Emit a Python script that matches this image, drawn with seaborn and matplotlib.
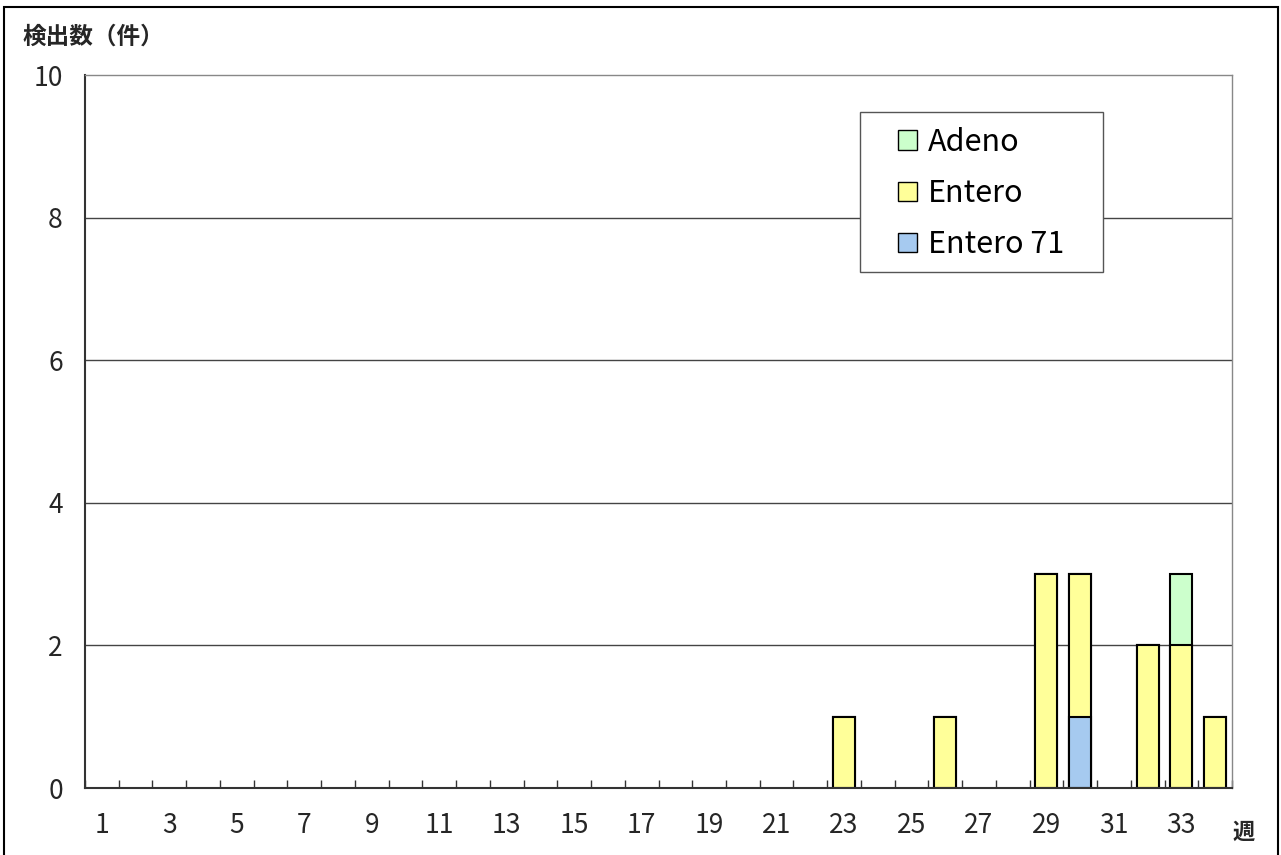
import matplotlib
matplotlib.use('Agg')
import matplotlib.pyplot as plt
import numpy as np
import pandas as pd
import seaborn as sns
from matplotlib.patches import Patch, Rectangle

weeks = list(range(1, 35))
entero71 = [0] * 29 + [1, 0, 0, 0, 0]
entero = [0] * 22 + [1, 0, 0, 1, 0, 0, 3, 2, 0, 2, 2, 1]
adeno = [0] * 32 + [1, 0]

series_names = ['Adeno', 'Entero', 'Entero 71']
colors = {'Adeno': '#CCFFCC', 'Entero': '#FFFF99', 'Entero 71': '#A6CAF0'}

sns.set_theme(style='white')
plt.rcParams['font.family'] = ['Noto Sans CJK JP', 'DejaVu Sans']

df = pd.DataFrame({'week': [str(w) for w in weeks],
                   'Entero 71': entero71, 'Entero': entero, 'Adeno': adeno})
df['top'] = df['Entero 71'] + df['Entero'] + df['Adeno']
df['mid'] = df['Entero 71'] + df['Entero']

W, H = 1281, 855
fig = plt.figure(figsize=(W / 100, H / 100), dpi=100)
ax_l, ax_r, ax_t, ax_b = 85, 1232, 75, 788
ax = fig.add_axes([ax_l / W, 1 - ax_b / H, (ax_r - ax_l) / W, (ax_b - ax_t) / H])

def to_axes(px, py):
    return (px - ax_l) / (ax_r - ax_l), (ax_b - py) / (ax_b - ax_t)

order = df['week'].tolist()
for col, name in [('top', 'Adeno'), ('mid', 'Entero'), ('Entero 71', 'Entero 71')]:
    sub = df[df[col] > 0]
    sns.barplot(data=sub, x='week', y=col, order=order, color=colors[name],
                edgecolor='black', linewidth=1.5, width=0.65, saturation=1, ax=ax)

ax.set_xlim(-0.5, len(weeks) - 0.5)
ax.set_ylim(0, 10)
ax.set_yticks([0, 2, 4, 6, 8, 10])
ax.set_yticklabels(['0', '2', '4', '6', '8', '10'], fontsize=19)
ax.tick_params(axis='y', length=0, pad=16)
ax.set_xticks(range(len(weeks)))
ax.set_xticklabels([w if int(w) % 2 == 1 else '' for w in order], fontsize=19)
ax.set_xticks(np.arange(-0.5, len(weeks) + 0.5, 1), minor=True)
ax.tick_params(axis='x', which='major', length=0, pad=17)
ax.tick_params(axis='x', which='minor', direction='in', length=6, width=1, color='#333333', bottom=True)
ax.set_xlabel('')
ax.set_ylabel('')
for y in [2, 4, 6, 8]:
    ax.axhline(y, color='#444444', linewidth=1, zorder=0)
ax.set_axisbelow(True)
for s in ['top', 'right']:
    ax.spines[s].set_color('#888888')
    ax.spines[s].set_linewidth(1)
for s in ['left', 'bottom']:
    ax.spines[s].set_color('#333333')
    ax.spines[s].set_linewidth(1.5)

# legend box drawn separately so the side padding can match
x0, y0 = to_axes(860, 272)
x1, y1 = to_axes(1103, 112)
ax.add_patch(Rectangle((x0, y0), x1 - x0, y1 - y0, transform=ax.transAxes, facecolor='white',
                       edgecolor='#555555', linewidth=1, zorder=5, clip_on=False))
handles = [Patch(facecolor=colors[n], edgecolor='black', linewidth=1, label=n) for n in series_names]
leg = ax.legend(handles=handles, loc='upper left', bbox_to_anchor=to_axes(898, 127),
                fontsize=22, frameon=False, handlelength=0.62, handleheight=0.62,
                handletextpad=0.36, labelspacing=0.66, borderpad=0, borderaxespad=0)
leg.set_zorder(6)
for t in leg.get_texts():
    t.set_color('black')

fig.text(22 / W, 1 - 37 / H, '検出数（件）', fontsize=17, fontweight='bold', va='center', ha='left')
fig.text(1244 / W, 1 - 832 / H, '週', fontsize=16, fontweight='bold', va='center', ha='center')
fig.patches.append(Rectangle((4 / W, -0.01), 1274 / W, 1 - 7 / H + 0.01, transform=fig.transFigure,
                             fill=False, edgecolor='black', linewidth=1.5))

fig.savefig('out.png', dpi=100)
